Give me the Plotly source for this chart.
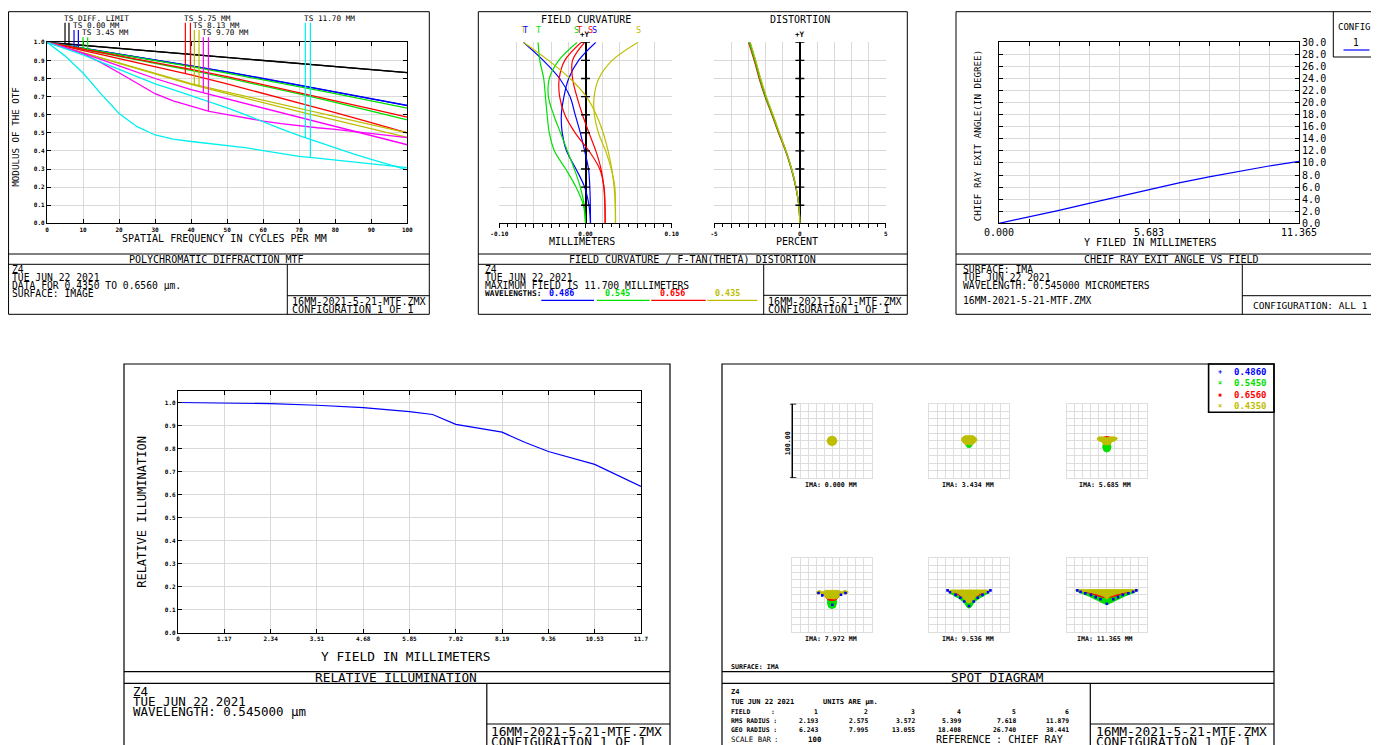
import numpy as np
import plotly.graph_objects as go

# ============================ DATA ============================
# ---- Polychromatic diffraction MTF (cycles/mm vs modulus) ----
mtf_freq = [0, 10, 20, 30, 40, 50, 60, 70, 80, 90, 100]
mtf_freq_fine = [0, 5, 10, 15, 20, 25, 30, 35, 40, 45, 50, 55, 60, 65, 70, 75, 80, 85, 90, 95, 100]
mtf_diff_T = [1.000, 0.983, 0.966, 0.949, 0.932, 0.915, 0.898, 0.882, 0.865, 0.849, 0.832]
mtf_diff_S = [1.000, 0.983, 0.966, 0.949, 0.932, 0.915, 0.898, 0.882, 0.865, 0.849, 0.833]
mtf_000_T = [1.000, 0.968, 0.935, 0.902, 0.869, 0.835, 0.800, 0.762, 0.725, 0.688, 0.650]
mtf_000_S = [1.000, 0.968, 0.936, 0.903, 0.870, 0.836, 0.801, 0.764, 0.727, 0.690, 0.652]
mtf_345_T = [1.000, 0.967, 0.934, 0.900, 0.866, 0.830, 0.793, 0.755, 0.716, 0.676, 0.636]
mtf_345_S = [1.000, 0.962, 0.924, 0.885, 0.845, 0.803, 0.760, 0.715, 0.668, 0.620, 0.571]
mtf_575_T = [1.000, 0.955, 0.910, 0.865, 0.820, 0.770, 0.718, 0.665, 0.612, 0.556, 0.500]
mtf_575_S = [1.000, 0.963, 0.926, 0.889, 0.851, 0.810, 0.767, 0.722, 0.677, 0.632, 0.586]
mtf_813_T = [1.000, 0.943, 0.886, 0.829, 0.772, 0.725, 0.680, 0.634, 0.589, 0.545, 0.500]
mtf_813_S = [1.000, 0.942, 0.883, 0.825, 0.768, 0.716, 0.665, 0.617, 0.570, 0.522, 0.475]
mtf_970_T = [1.000, 0.940, 0.870, 0.800, 0.738, 0.687, 0.635, 0.585, 0.535, 0.484, 0.434]
mtf_970_S = [1.000, 0.972, 0.937, 0.888, 0.832, 0.772, 0.716, 0.676, 0.645, 0.618, 0.600,
             0.582, 0.565, 0.551, 0.538, 0.528, 0.519, 0.508, 0.497, 0.485, 0.473]
mtf_1170_T = [1.000, 0.965, 0.930, 0.890, 0.850, 0.810, 0.770, 0.738, 0.705, 0.672, 0.638,
              0.600, 0.560, 0.522, 0.485, 0.450, 0.415, 0.383, 0.353, 0.324, 0.295]
mtf_1170_S = [1.000, 0.925, 0.830, 0.715, 0.607, 0.534, 0.488, 0.465, 0.452, 0.442, 0.432,
              0.418, 0.402, 0.385, 0.370, 0.360, 0.350, 0.340, 0.330, 0.319, 0.308]
mtf_xticks = [0, 10, 20, 30, 40, 50, 60, 70, 80, 90, 100]
mtf_xtick_text = ["0", "10", "20", "30", "40", "50", "60", "70", "80", "90", "100"]
mtf_yticks = [0.0, 0.1, 0.2, 0.3, 0.4, 0.5, 0.6, 0.7, 0.8, 0.9, 1.0]
mtf_ytick_text = ["0.0", "0.1", "0.2", "0.3", "0.4", "0.5", "0.6", "0.7", "0.8", "0.9", "1.0"]
mtf_labels = ["TS DIFF. LIMIT", "TS 0.00 MM", "TS 3.45 MM", "TS 5.75 MM",
              "TS 8.13 MM", "TS 9.70 MM", "TS 11.70 MM"]
mtf_marker_x = [5.0, 6.1, 7.5, 8.7, 10.0, 11.3, 38.4, 39.8, 40.9, 42.2, 43.4, 44.8, 71.7, 73.1]

# ---- Field curvature (mm) and distortion (%) vs normalized field ----
fc_field = [0.0, 0.1, 0.2, 0.3, 0.4, 0.5, 0.6, 0.7, 0.8, 0.9, 1.0]
fc_blue_T = [0.0058, 0.0056, 0.0050, 0.0035, -0.0010, -0.0060, -0.0120, -0.0180, -0.0300, -0.0490, -0.0720]
fc_blue_S = [0.0058, 0.0040, -0.0010, -0.0110, -0.0220, -0.0270, -0.0280, -0.0250, -0.0195, -0.0080, 0.0120]
fc_green_T = [0.0, -0.0025, -0.0110, -0.0230, -0.0360, -0.0420, -0.0445, -0.0465, -0.0485, -0.0530, -0.0550]
fc_green_S = [0.0, -0.0015, -0.0060, -0.0130, -0.0210, -0.0290, -0.0370, -0.0430, -0.0420, -0.0310, -0.0097]
fc_red_T = [0.0228, 0.0226, 0.0215, 0.0165, 0.0040, -0.0120, -0.0240, -0.0300, -0.0305, -0.0240, -0.0050]
fc_red_S = [0.0228, 0.0225, 0.0212, 0.0180, 0.0120, 0.0040, -0.0035, -0.0100, -0.0150, -0.0150, -0.0010]
fc_yel_T = [0.0348, 0.0345, 0.0332, 0.0305, 0.0262, 0.0205, 0.0125, 0.0010, -0.0180, -0.0430, -0.0720]
fc_yel_S = [0.0348, 0.0347, 0.0340, 0.0299, 0.0233, 0.0150, 0.0103, 0.0100, 0.0155, 0.0310, 0.0611]
fc_label_text = ["T", "T", "T", "S", "T", "S", "S", "S"]
fc_label_x = [-0.0725, -0.0695, -0.0545, -0.0101, -0.0074, 0.0054, 0.0110, 0.0615]
fc_xticks = [-0.10, -0.08, -0.06, -0.04, -0.02, 0.0, 0.02, 0.04, 0.06, 0.08, 0.10]
fc_xtick_text = ["-0.10", "", "", "", "", "0.00", "", "", "", "", "0.10"]
dist_blue = [0.0, -0.06, -0.23, -0.48, -0.81, -1.21, -1.58, -1.98, -2.31, -2.60, -2.92]
dist_green = [0.0, -0.06, -0.23, -0.49, -0.82, -1.22, -1.60, -2.00, -2.33, -2.62, -2.95]
dist_red = [0.0, -0.06, -0.24, -0.50, -0.84, -1.25, -1.63, -2.03, -2.37, -2.66, -2.99]
dist_yel = [0.0, -0.06, -0.22, -0.47, -0.80, -1.19, -1.56, -1.95, -2.28, -2.57, -2.88]
dist_xticks = [-5, -4, -3, -2, -1, 0, 1, 2, 3, 4, 5]
dist_xtick_text = ["-5", "", "", "", "", "0", "", "", "", "", "5"]
wavelength_text = ["0.486", "0.545", "0.656", "0.435"]

# ---- Chief ray exit angle vs field ----
cr_field = [0.0, 1.1365, 2.273, 3.4095, 4.546, 5.6825, 6.819, 7.9555, 9.092, 10.2285, 11.365]
cr_angle = [0.0, 1.05, 2.15, 3.30, 4.45, 5.60, 6.70, 7.70, 8.65, 9.50, 10.25]
cr_xticks = [0.0, 1.1365, 2.273, 3.4095, 4.546, 5.6825, 6.819, 7.9555, 9.092, 10.2285, 11.365]
cr_xtick_text = ["0.000", "", "", "", "", "5.683", "", "", "", "", "11.365"]
cr_yticks = [0, 2, 4, 6, 8, 10, 12, 14, 16, 18, 20, 22, 24, 26, 28, 30]
cr_ytick_text = ["0.0", "2.0", "4.0", "6.0", "8.0", "10.0", "12.0", "14.0", "16.0", "18.0",
                 "20.0", "22.0", "24.0", "26.0", "28.0", "30.0"]

# ---- Relative illumination ----
ri_field = [0.0, 1.17, 2.34, 3.51, 4.68, 5.85, 6.435, 7.02, 8.19, 8.775, 9.36, 10.53, 11.115, 11.7]
ri_value = [1.000, 0.999, 0.995, 0.988, 0.978, 0.960, 0.948, 0.905, 0.871, 0.826, 0.787, 0.731, 0.682, 0.635]
ri_xticks = [0.0, 1.17, 2.34, 3.51, 4.68, 5.85, 7.02, 8.19, 9.36, 10.53, 11.7]
ri_xtick_text = ["0", "1.17", "2.34", "3.51", "4.68", "5.85", "7.02", "8.19", "9.36", "10.53", "11.7"]
ri_yticks = [0.0, 0.1, 0.2, 0.3, 0.4, 0.5, 0.6, 0.7, 0.8, 0.9, 1.0]
ri_ytick_text = ["0.0", "0.1", "0.2", "0.3", "0.4", "0.5", "0.6", "0.7", "0.8", "0.9", "1.0"]

# ---- Spot diagram (footprints in micrometres, relative to chief ray) ----
spot_labels = ["IMA: 0.000 MM", "IMA: 3.434 MM", "IMA: 5.685 MM",
               "IMA: 7.972 MM", "IMA: 9.536 MM", "IMA: 11.365 MM"]
spot_field_no = ["1", "2", "3", "4", "5", "6"]
spot_rms = ["2.193", "2.575", "3.572", "5.399", "7.618", "11.879"]
spot_geo = ["6.243", "7.995", "13.055", "18.408", "26.740", "38.441"]
spot_legend = ["0.4860", "0.5450", "0.6560", "0.4350"]
spot_grid = [-50, -40, -30, -20, -10, 0, 10, 20, 30, 40, 50]

spot1_yellow = [(6.3, 0), (4.5, 4.6), (0, 6.5), (-4.5, 4.6), (-6.3, 0), (-4.5, -4.6), (0, -6.5), (4.5, -4.6)]
spot2_green = [(-5, 1), (5, 1), (4.5, -5), (2, -8.7), (-2, -8.7), (-4.5, -5)]
spot2_yellow = [(-9.5, 1), (-8.5, 4.5), (-5, 6.9), (5, 6.9), (8.5, 4.5), (10.2, 1), (7, -3),
                (3, -5.2), (-3, -5.2), (-7, -3)]
spot3_green = [(-4.5, -4), (4.5, -4), (5.2, -9), (3.5, -13.5), (0, -15), (-3.5, -13.5), (-5.2, -9)]
spot3_red = [(-3, 5.6), (3, 5.6), (2, 3.5), (-2, 3.5)]
spot3_yellow = [(-12.3, 3.5), (-10, 5.3), (-3, 5.3), (0, 4), (3, 5.3), (10, 5.3), (13.3, 3.5),
                (11, 0.5), (6, -1.5), (4, -5.2), (-4, -5.2), (-6, -1.5), (-11, 0.5)]
spot4_green = [(-5.5, -4), (5.5, -4), (5.5, -12), (4, -17), (0, -18.5), (-4, -17), (-5.5, -12)]
spot4_red = [(-9, -1), (9, -1), (7, -5), (3, -7.5), (-3, -7.5), (-7, -5)]
spot4_yellow = [(-19.3, 4), (-16, 6), (-12, 4), (-8, 6), (8, 6), (12, 4), (16, 6), (20.5, 4),
                (19, 1.5), (13, 2), (10, -1), (7, -4.5), (3, -5.5), (-3, -5.5), (-7, -4.5),
                (-10, -1), (-13, 2), (-19, 1.5)]
spot4_blue = [(-12.2, -0.7), (11.3, 0.1), (0.4, -13.3), (-17, 2.5), (17, 2.5)]
spot5_green = [(-25, 3), (25, 3), (14, -4), (6, -10), (3, -16), (0, -18), (-3, -16), (-6, -10), (-14, -4)]
spot5_red = [(-22, 4.5), (22, 4.5), (12, -1), (4, -5), (0, -6), (-4, -5), (-12, -1)]
spot5_yellow = [(-27.3, 6), (-20, 6.5), (20, 6.5), (27, 6), (24, 4), (14, 2), (8, -3), (4, -9),
                (0, -11), (-4, -9), (-8, -3), (-14, 2), (-24, 4)]
spot5_blue = [(-24, 3.5), (-17, 0), (-11, -4), (-6, -9), (24, 3.5), (17, 0), (11, -4), (6, -9),
              (0, -15), (-27, 6), (27, 6)]
spot6_green = [(-38, 5), (38, 5), (22, -2), (10, -8), (3, -12), (0, -13.3), (-3, -12), (-10, -8), (-22, -2)]
spot6_red = [(-32, 5.5), (32, 5.5), (18, 1), (8, -2.5), (0, -4), (-8, -2.5), (-18, 1)]
spot6_yellow = [(-39.4, 6.5), (-30, 7), (30, 7), (39.4, 6.5), (36, 4.5), (24, 4), (12, 1), (4, -2),
                (0, -6), (-4, -2), (-12, 1), (-24, 4), (-36, 4.5)]
spot6_blue = [(-37, 6), (-33, 4), (-27, 2), (-20, 0), (-14, -3), (-8, -6), (37, 6), (33, 4),
              (27, 2), (20, 0), (14, -3), (8, -6), (0, -12)]

# ============================ STYLE / LAYOUT ============================
WIN_W, WIN_H = 1379, 745
OFF = 8                      # page body margin of the browser
W, H = WIN_W - OFF, WIN_H - OFF
MONO = "DejaVu Sans Mono"
GRID = "#d9d9d9"
BLACK, BLUE, GREEN, RED = "#000000", "#0000ff", "#00e000", "#ff0000"
YEL, MAG, CYAN = "#bebe00", "#ff00ff", "#00f0f0"

shapes, annos = [], []


def X(p):
    return (p - OFF) / W


def Y(p):
    return 1 - (p - OFF) / H


def seg(x0, y0, x1, y1, color=BLACK, width=1.0):
    shapes.append(dict(type="line", xref="paper", yref="paper", x0=X(x0), y0=Y(y0),
                       x1=X(x1), y1=Y(y1), line=dict(color=color, width=width)))


def box(x0, y0, x1, y1, width=1.0):
    shapes.append(dict(type="rect", xref="paper", yref="paper", x0=max(X(x0), 0.0004), y0=Y(y1),
                       x1=X(x1), y1=Y(y0), line=dict(color=BLACK, width=width),
                       fillcolor="rgba(0,0,0,0)"))


def txt(x, y, s, size=10, anchor="left", color=BLACK, family=MONO, weight="normal", angle=0):
    annos.append(dict(xref="paper", yref="paper", x=X(x), y=Y(y), text=s, showarrow=False,
                      xanchor=anchor, yanchor="middle", textangle=angle, borderpad=0,
                      font=dict(family=family, size=size, color=color, weight=weight)))


def dom_x(a, b):
    return [X(a), X(b)]


def dom_y(top, bottom):
    return [Y(bottom), Y(top)]


TICKF = dict(family=MONO, size=6, color=BLACK, weight="bold")
FOOT = 9.7

fig = go.Figure()

# ---------------- Panel 1: MTF ----------------
mtf_curves = [
    (mtf_freq, mtf_diff_T, BLACK), (mtf_freq, mtf_diff_S, BLACK),
    (mtf_freq, mtf_000_T, BLUE), (mtf_freq, mtf_000_S, BLUE),
    (mtf_freq, mtf_345_T, GREEN), (mtf_freq, mtf_345_S, GREEN),
    (mtf_freq, mtf_575_T, RED), (mtf_freq, mtf_575_S, RED),
    (mtf_freq, mtf_813_T, YEL), (mtf_freq, mtf_813_S, YEL),
    (mtf_freq, mtf_970_T, MAG), (mtf_freq_fine, mtf_970_S, MAG),
    (mtf_freq_fine, mtf_1170_T, CYAN), (mtf_freq_fine, mtf_1170_S, CYAN),
]
for xs, ys, c in mtf_curves:
    fig.add_trace(go.Scatter(x=xs, y=ys, mode="lines", line=dict(color=c, width=1.3),
                             xaxis="x", yaxis="y", showlegend=False, hoverinfo="skip"))

label_rows = [22.7, 30.0, 37.3]
label_text_rows = [18.7, 25.7, 33.0]
for i, lab in enumerate(mtf_labels):
    row = i % 3 if i < 6 else 0
    xs_T, ys_T, c = mtf_curves[2 * i]
    xs_S, ys_S, _ = mtf_curves[2 * i + 1]
    top = (223.3 - label_rows[row]) / 181.0
    for k, (xx, yy) in enumerate([(xs_T, ys_T), (xs_S, ys_S)]):
        mx = mtf_marker_x[2 * i + k]
        shapes.append(dict(type="line", xref="x", yref="y domain", x0=mx, x1=mx,
                           y0=top, y1=float(np.interp(mx, xx, yy)),
                           line=dict(color=c, width=1.2)))
    annos.append(dict(xref="x", yref="paper", x=mtf_marker_x[2 * i], y=Y(label_text_rows[row]),
                      text=lab, showarrow=False, xanchor="left", yanchor="middle", xshift=-3,
                      font=dict(family=MONO, size=7.7, color=BLACK)))

box(4.3, 11.7, 429.3, 314.3)
seg(4.3, 254, 429.3, 254)
seg(4.3, 264.3, 429.3, 264.3)
seg(287.3, 264.3, 287.3, 314.3)
seg(287.3, 295.7, 429.3, 295.7)
txt(216.8, 259.3, "POLYCHROMATIC DIFFRACTION MTF", anchor="center")
for yy, s in zip([269.3, 277.0, 285.3, 293.0],
                 ["Z4", "TUE JUN 22 2021", "DATA FOR 0.4350 TO 0.6560 µm.", "SURFACE: IMAGE"]):
    txt(10.5, yy, s, size=FOOT)
txt(290.5, 301, "16MM-2021-5-21-MTF.ZMX", size=10.1)
txt(290.5, 309, "CONFIGURATION 1 OF 1", size=10.1)
txt(224.5, 238.7, "SPATIAL FREQUENCY IN CYCLES PER MM", anchor="center")
txt(15.7, 137, "MODULUS OF THE OTF", size=9.2, anchor="center", angle=-90)

# ---------------- Panel 2: field curvature / distortion ----------------
fc_curves = [(fc_blue_T, BLUE), (fc_blue_S, BLUE), (fc_green_T, GREEN), (fc_green_S, GREEN),
             (fc_red_T, RED), (fc_red_S, RED), (fc_yel_T, YEL), (fc_yel_S, YEL)]
for xs, c in fc_curves:
    fig.add_trace(go.Scatter(x=xs, y=fc_field, mode="lines", line=dict(color=c, width=1.2, shape="spline"),
                             xaxis="x2", yaxis="y2", showlegend=False, hoverinfo="skip"))
for xs, c in [(dist_blue, BLUE), (dist_red, RED), (dist_green, GREEN), (dist_yel, YEL)]:
    fig.add_trace(go.Scatter(x=xs, y=fc_field, mode="lines", line=dict(color=c, width=1.2, shape="spline"),
                             xaxis="x3", yaxis="y3", showlegend=False, hoverinfo="skip"))
fc_label_colors = [YEL, BLUE, GREEN, GREEN, RED, RED, BLUE, YEL]
for s, xv, c in zip(fc_label_text, fc_label_x, fc_label_colors):
    annos.append(dict(xref="x2", yref="paper", x=xv, y=Y(30), text=s, showarrow=False,
                      xanchor="center", yanchor="middle",
                      font=dict(family=MONO, size=8.5, color=c)))
for v in fc_field[1:]:
    shapes.append(dict(type="line", xref="x2", yref="y2", x0=-0.0052, x1=0.0052, y0=v, y1=v,
                       line=dict(color=BLACK, width=1.4)))
    shapes.append(dict(type="line", xref="x3", yref="y3", x0=-0.26, x1=0.26, y0=v, y1=v,
                       line=dict(color=BLACK, width=1.4)))

box(478.3, 11.7, 907.3, 314.3)
seg(478.3, 254, 907.3, 254)
seg(478.3, 264.3, 907.3, 264.3)
seg(763.7, 264.3, 763.7, 314.3)
seg(763.7, 295.3, 907.3, 295.3)
txt(585.7, 19.3, "FIELD CURVATURE", anchor="center")
txt(800, 19.3, "DISTORTION", anchor="center")
txt(585.3, 34.5, "+Y", size=7.5, anchor="center", weight="bold")
txt(800, 34.5, "+Y", size=7.5, anchor="center", weight="bold")
txt(582, 241.7, "MILLIMETERS", anchor="center")
txt(796.7, 241.7, "PERCENT", anchor="center")
txt(692.7, 259.3, "FIELD CURVATURE / F-TAN(THETA) DISTORTION", anchor="center")
for yy, s in zip([270.0, 277.7, 285.3], ["Z4", "TUE JUN 22 2021", "MAXIMUM FIELD IS 11.700 MILLIMETERS"]):
    txt(484.2, yy, s, size=FOOT)
txt(484.2, 293.5, "WAVELENGTHS:", size=7.8, weight="bold")
wl_colors = [BLUE, GREEN, RED, YEL]
wl_centers = [561.8, 617.0, 672.0, 727.0]
wl_lines = [(541.3, 594.0), (597.0, 649.7), (651.3, 705.7), (707.3, 757.3)]
for s, c, cx, (a, b) in zip(wavelength_text, wl_colors, wl_centers, wl_lines):
    txt(cx, 293.5, s, size=8.4, anchor="center", color=c, weight="bold")
    seg(a, 300.3, b, 300.3, color=c, width=1.2)
txt(767.2, 301, "16MM-2021-5-21-MTF.ZMX", size=10.1)
txt(767.2, 309, "CONFIGURATION 1 OF 1", size=10.1)

# ---------------- Panel 3: chief ray exit angle ----------------
fig.add_trace(go.Scatter(x=cr_field, y=cr_angle, mode="lines", line=dict(color=BLUE, width=1.2),
                         xaxis="x4", yaxis="y4", showlegend=False, hoverinfo="skip"))
box(956, 11.7, 1390, 314.3)
seg(956, 254, 1390, 254)
seg(956, 264.3, 1390, 264.3)
seg(1242.3, 264.3, 1242.3, 314.3)
seg(1242.3, 295.7, 1390, 295.7)
seg(1333.3, 11.7, 1333.3, 57)
seg(1333.3, 57, 1390, 57)
txt(1337.2, 26.7, "CONFIG", size=9.0)
txt(1355.5, 42.3, "1", size=9.6, anchor="center")
seg(1343.5, 50, 1369.5, 50, color=BLUE, width=1.2)
txt(1149.7, 242.7, "Y FILED IN MILLIMETERS", anchor="center")
txt(978.3, 136, "CHIEF RAY EXIT ANGLE(IN DEGREE)", size=9.2, anchor="center", angle=-90)
txt(1171, 259.3, "CHEIF RAY EXIT ANGLE VS FIELD", anchor="center")
for yy, s in zip([270.0, 277.7, 285.3, 300.7],
                 ["SURFACE: IMA", "TUE JUN 22 2021", "WAVELENGTH: 0.545000 MICROMETERS",
                  "16MM-2021-5-21-MTF.ZMX"]):
    txt(961.5, yy, s, size=FOOT)
txt(1251.5, 305, "CONFIGURATION: ALL 1", size=9.5)

# ---------------- Panel 4: relative illumination ----------------
fig.add_trace(go.Scatter(x=ri_field, y=ri_value, mode="lines", line=dict(color=BLUE, width=1.2),
                         xaxis="x5", yaxis="y5", showlegend=False, hoverinfo="skip"))
box(124, 364, 670, 760, width=1.2)
seg(124, 671.7, 670, 671.7, width=1.2)
seg(124, 683.3, 670, 683.3, width=1.2)
seg(486.8, 683.3, 486.8, 760, width=1.2)
seg(486.8, 724, 670, 724, width=1.2)
txt(141.8, 512, "RELATIVE ILLUMINATION", size=12, anchor="center", angle=-90)
txt(405.6, 656, "Y FIELD IN MILLIMETERS", size=12.8, anchor="center")
txt(396.4, 677.7, "RELATIVE ILLUMINATION", size=12.8, anchor="center")
for yy, s in zip([691.7, 701.7, 711.0], ["Z4", "TUE JUN 22 2021", "WAVELENGTH: 0.545000 µm"]):
    txt(131.8, yy, s, size=12.5)
txt(489.8, 731, "16MM-2021-5-21-MTF.ZMX", size=12.9)
txt(489.8, 741, "CONFIGURATION 1 OF 1", size=12.9)

# ---------------- Panel 5: spot diagram ----------------
spot_cols = [(792.3, 871.7), (929.3, 1008.7), (1067.0, 1146.7)]
spot_rows = [(403.7, 478.0), (557.7, 632.0)]
spot_data = [
    [(spot1_yellow, YEL)],
    [(spot2_green, GREEN), (spot2_yellow, YEL)],
    [(spot3_green, GREEN), (spot3_red, RED), (spot3_yellow, YEL)],
    [(spot4_green, GREEN), (spot4_red, RED), (spot4_yellow, YEL)],
    [(spot5_green, GREEN), (spot5_red, RED), (spot5_yellow, YEL)],
    [(spot6_green, GREEN), (spot6_red, RED), (spot6_yellow, YEL)],
]
spot_blue = [None, None, None, spot4_blue, spot5_blue, spot6_blue]
for i in range(6):
    ax = str(6 + i)
    for poly, c in spot_data[i]:
        xs = [p[0] for p in poly] + [poly[0][0]]
        ys = [p[1] for p in poly] + [poly[0][1]]
        fig.add_trace(go.Scatter(x=xs, y=ys, mode="lines", fill="toself", fillcolor=c,
                                 line=dict(color=c, width=1), xaxis="x" + ax, yaxis="y" + ax,
                                 showlegend=False, hoverinfo="skip"))
    if spot_blue[i]:
        fig.add_trace(go.Scatter(x=[p[0] for p in spot_blue[i]], y=[p[1] for p in spot_blue[i]],
                                 mode="markers", marker=dict(color=BLUE, size=2.6, symbol="square"),
                                 xaxis="x" + ax, yaxis="y" + ax, showlegend=False, hoverinfo="skip"))
    cx = (spot_cols[i % 3][0] + spot_cols[i % 3][1]) / 2
    ly = spot_rows[i // 3][1] + 7.3
    txt(cx - 1.5, ly, spot_labels[i], size=6.6, anchor="center", weight="bold")

# scale bar
shapes.append(dict(type="line", xref="x6 domain", yref="y6", x0=0, x1=0, y0=-50, y1=50,
                   line=dict(color=BLACK, width=1.4)))
for v in (-50, 50):
    shapes.append(dict(type="line", xref="x6 domain", yref="y6", x0=-0.03, x1=0.05, y0=v, y1=v,
                       line=dict(color=BLACK, width=1.4)))
txt(788.2, 443, "100.00", size=6.6, anchor="center", weight="bold", angle=-90)

box(722, 364, 1274, 760, width=1.2)
seg(722, 671.7, 1274, 671.7, width=1.2)
seg(722, 683.3, 1274, 683.3, width=1.2)
seg(1090.3, 683.3, 1090.3, 760, width=1.2)
seg(1090.3, 724, 1274, 724, width=1.2)
box(1208.6, 364, 1274, 412.3, width=1.6)
leg_marks = ["+", "×", "▪", "×"]
for k, (s, c, m) in enumerate(zip(spot_legend, wl_colors, leg_marks)):
    yy = 372 + k * 11.4
    txt(1219.6, yy, m, size=7, anchor="center", color=c, weight="bold")
    txt(1232.5, yy, s, size=9, color=c, weight="bold")
SF = 6.4
txt(729.8, 666.7, "SURFACE: IMA", size=6.6, weight="bold")
txt(997.5, 677.3, "SPOT DIAGRAM", size=12.8, anchor="center")
txt(729.8, 692.3, "Z4", size=SF + 0.6, weight="bold")
txt(729.8, 701.7, "TUE JUN 22 2021", size=SF + 0.6, weight="bold")
txt(821.5, 701.7, "UNITS ARE µm.", size=SF + 0.6, weight="bold")
txt(729.8, 711.5, "FIELD", size=SF, weight="bold")
txt(769.8, 711.5, ":", size=SF, weight="bold")
txt(729.8, 720.7, "RMS RADIUS :", size=SF, weight="bold")
txt(729.8, 730.0, "GEO RADIUS :", size=SF, weight="bold")
col_right = [818.7, 869.0, 916.3, 962.0, 1017.0, 1070.3]
for xr, a, b, c in zip(col_right, spot_field_no, spot_rms, spot_geo):
    txt(xr, 711.5, a, size=SF, anchor="right", weight="bold")
    txt(xr, 720.7, b, size=SF, anchor="right", weight="bold")
    txt(xr, 730.0, c, size=SF, anchor="right", weight="bold")
txt(729.8, 739.3, "SCALE BAR", size=7.4)
txt(773.2, 739.3, ":", size=7.4)
txt(822, 739.3, "100", size=7.4, anchor="right", weight="bold")
txt(934.8, 739.3, "REFERENCE", size=10.1)
txt(994.8, 739.3, ": CHIEF RAY", size=10.1)
txt(1094.5, 731, "16MM-2021-5-21-MTF.ZMX", size=12.9)
txt(1094.5, 741, "CONFIGURATION 1 OF 1", size=12.9)


# ---------------- axes ----------------
def framed(domain, rng, tv, tt, anchor, tickfont=TICKF, **kw):
    d = dict(domain=domain, range=rng, anchor=anchor, tickmode="array", tickvals=tv, ticktext=tt,
             showgrid=True, gridcolor=GRID, gridwidth=1, zeroline=False, fixedrange=True,
             showline=True, linecolor=BLACK, linewidth=1.2, mirror="ticks", ticks="inside",
             ticklen=4, tickcolor=BLACK, tickwidth=1, tickfont=tickfont, layer="above traces",
             automargin=False)
    d.update(kw)
    return d


layout_axes = {}
layout_axes["xaxis"] = framed(dom_x(47, 407.3), [0, 100], mtf_xticks, mtf_xtick_text, "y")
layout_axes["yaxis"] = framed(dom_y(42.3, 223.3), [0, 1], mtf_yticks, mtf_ytick_text, "x")

layout_axes["xaxis2"] = dict(domain=dom_x(499.3, 671.7), range=[-0.1, 0.1], anchor="y2", tickmode="array",
                             tickvals=fc_xticks, ticktext=fc_xtick_text, showgrid=True, gridcolor=GRID,
                             zeroline=True, zerolinecolor=BLACK, zerolinewidth=1.5, showline=True,
                             linecolor=BLACK, linewidth=1.2, ticks="outside", ticklen=4, tickcolor=BLACK,
                             minor=dict(dtick=0.01, tick0=0, ticks="outside", ticklen=3, tickcolor=BLACK,
                                        showgrid=False),
                             tickfont=TICKF, fixedrange=True, automargin=False)
layout_axes["yaxis2"] = dict(domain=dom_y(42.3, 223.3), range=[0, 1], anchor="x2", tickmode="array",
                             tickvals=fc_field, showticklabels=False, showgrid=True, gridcolor=GRID,
                             zeroline=False, showline=False, ticks="", fixedrange=True, automargin=False)
layout_axes["xaxis3"] = dict(domain=dom_x(714, 885.7), range=[-5, 5], anchor="y3", tickmode="array",
                             tickvals=dist_xticks, ticktext=dist_xtick_text, showgrid=True, gridcolor=GRID,
                             zeroline=True, zerolinecolor=BLACK, zerolinewidth=1.5, showline=True,
                             linecolor=BLACK, linewidth=1.2, ticks="outside", ticklen=4, tickcolor=BLACK,
                             minor=dict(dtick=0.5, tick0=0, ticks="outside", ticklen=3, tickcolor=BLACK,
                                        showgrid=False),
                             tickfont=TICKF, fixedrange=True, automargin=False)
layout_axes["yaxis3"] = dict(domain=dom_y(42.3, 223.3), range=[0, 1], anchor="x3", tickmode="array",
                             tickvals=fc_field, showticklabels=False, showgrid=True, gridcolor=GRID,
                             zeroline=False, showline=False, ticks="", fixedrange=True, automargin=False)

CRF = dict(family=MONO, size=10, color=BLACK)
layout_axes["xaxis4"] = framed(dom_x(999, 1299), [0, 11.365], cr_xticks, cr_xtick_text, "y4", tickfont=CRF)
layout_axes["yaxis4"] = framed(dom_y(42.3, 223.3), [0, 30], cr_yticks, cr_ytick_text, "x4", tickfont=CRF,
                               side="right")

layout_axes["xaxis5"] = framed(dom_x(178, 641), [0, 11.7], ri_xticks, ri_xtick_text, "y5")
layout_axes["yaxis5"] = framed(dom_y(391, 632.7), [0, 1.05], ri_yticks, ri_ytick_text, "x5")

for i in range(6):
    ax = str(6 + i)
    c0, c1 = spot_cols[i % 3]
    r0, r1 = spot_rows[i // 3]
    common = dict(range=[-50, 50], tickmode="array", tickvals=spot_grid, showticklabels=False,
                  ticks="", showgrid=True, gridcolor="#dedede", gridwidth=1, zeroline=False,
                  showline=True, linecolor="#dedede", linewidth=1, mirror=True, fixedrange=True,
                  automargin=False)
    layout_axes["xaxis" + ax] = dict(domain=dom_x(c0, c1), anchor="y" + ax, **common)
    layout_axes["yaxis" + ax] = dict(domain=dom_y(r0, r1), anchor="x" + ax, **common)

fig.update_layout(template="none", width=W, height=H, margin=dict(l=0, r=0, t=0, b=0, pad=0),
                  autosize=False, paper_bgcolor="white", plot_bgcolor="white", showlegend=False,
                  font=dict(family=MONO, color=BLACK),
                  shapes=shapes, annotations=annos, **layout_axes)

fig.write_html("out.html")
